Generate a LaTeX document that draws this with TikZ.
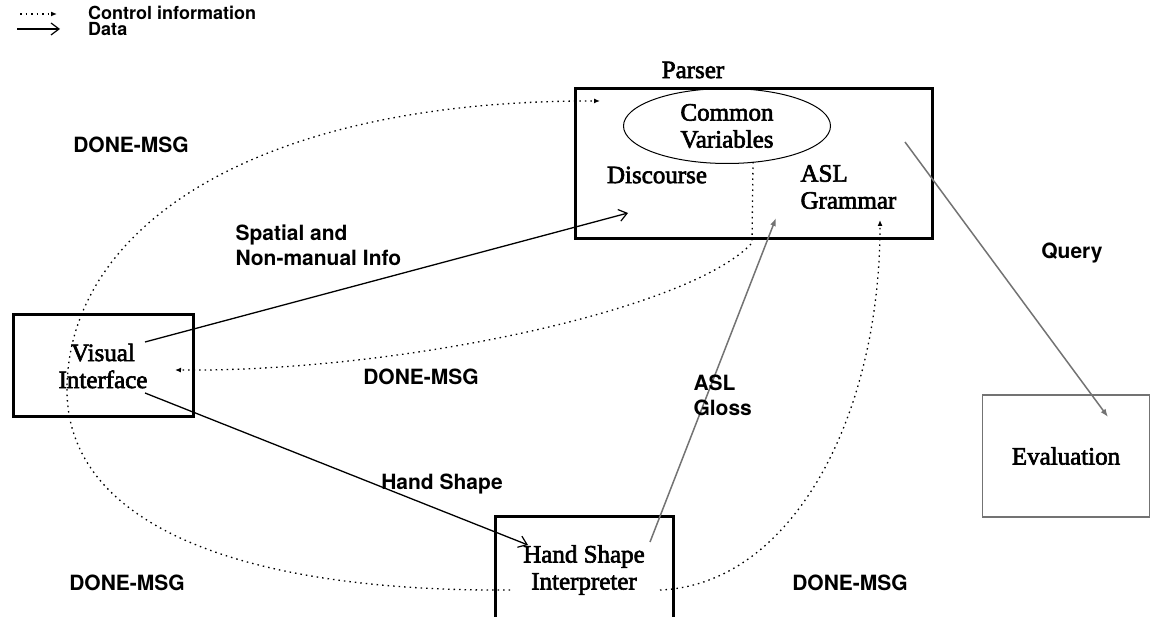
\documentclass[tikz,border=0pt]{standalone}
\usepackage{fontspec}
\setmainfont{Liberation Serif}
\setsansfont{TeX Gyre Heros}
\newfontfamily\scanserif[FakeBold=2.5]{Liberation Serif}
\usetikzlibrary{arrows.meta,shapes.geometric}
\definecolor{inkgray}{gray}{0.45}

\begin{document}
\begin{tikzpicture}[x=1pt,y=-1pt,
 module/.style={draw,line width=3pt,inner sep=0pt},
 serifname/.style={font=\scanserif\fontsize{25}{27}\selectfont,align=center},
 flowlabel/.style={font=\sffamily\bfseries\fontsize{21}{25}\selectfont,align=left},
 legendtext/.style={font=\sffamily\bfseries\fontsize{18}{18}\selectfont,inner sep=0pt},
 % Data flows end in an open barb, control flows are dotted with a small head.
 data/.style={line width=1.3pt,-{Straight Barb[length=8pt,width=12pt,line width=1.2pt]}},
 gloss/.style={inkgray,line width=1.5pt,-{Latex[length=8pt,width=6pt]}},
 control/.style={line width=1.3pt,dash pattern=on 1.5pt off 4pt,
   -{Latex[length=6pt,width=5pt]}}]
\useasboundingbox (0,0) rectangle (1152,617);

% Legend
\coordinate (ctrlA) at (20,14);
\coordinate (ctrlB) at (57,14);
\coordinate (dataA) at (17,29);
\coordinate (dataB) at (60,29);
\draw[control] (ctrlA) -- (ctrlB);
\draw[data] (dataA) -- (dataB);
\node[legendtext,anchor=west] (ctrlkey) at (88,13) {Control information};
\node[legendtext,anchor=west] (datakey) at (88,29) {Data};

% Modules
\node[module,minimum width=357pt,minimum height=150pt] (parser) at (753.5,164) {};
\node[serifname] (parsertitle) at (693,70) {Parser};
\node[draw,ellipse,line width=1pt,serifname,minimum width=207pt,
  minimum height=75pt,inner sep=0pt] (commonvars) at (727,126) {Common\\Variables};
\node[serifname] (discourse) at (657,175) {Discourse};
\node[serifname,align=left,anchor=west] (grammar) at (797,187) {ASL\\Grammar};
\node[module,serifname,minimum width=180pt,minimum height=102pt] (vi)
  at (103,366) {Visual\\Interface};
\node[module,serifname,minimum width=178pt,minimum height=106pt] (hsi)
  at (584,570) {Hand Shape\\Interpreter};
\node[draw=inkgray,line width=1.5pt,serifname,minimum width=167pt,
  minimum height=122pt] (eval) at (1066,456) {Evaluation};

% Ends of the connectors
\coordinate (vi-spatial) at (145,342);
\coordinate (parser-spatial) at (628,213);
\coordinate (vi-hand) at (145,393);
\coordinate (hsi-hand) at (528,545);
\coordinate (hsi-gloss) at (650,542);
\coordinate (parser-gloss) at (776,218);
\coordinate (parser-query) at (905,142);
\coordinate (eval-query) at (1108,417);
\coordinate (hsi-left) at (510,590);
\coordinate (parser-done) at (600,101);
\coordinate (cv-drop) at (753,162);
\coordinate (parser-floor) at (752,243);
\coordinate (vi-done) at (175,370);
\coordinate (hsi-right) at (660,590);
\coordinate (grammar-done) at (880,220);

% Data
\draw[data] (vi-spatial) -- (parser-spatial);
\draw[data] (vi-hand) -- (hsi-hand);
\draw[gloss] (hsi-gloss) -- (parser-gloss);
\draw[gloss] (parser-query) -- (eval-query);
\node[flowlabel,anchor=west] (spatiallabel) at (232,245) {Spatial and\\Non-manual Info};
\node[flowlabel] (handlabel) at (442,484) {Hand Shape};
\node[flowlabel,anchor=west] (glosslabel) at (690,395) {ASL\\Gloss};
\node[flowlabel] (querylabel) at (1072,253) {Query};

% Control
\draw[control] (hsi-left) .. controls (230,592) and (67,520) .. (67,390)
  .. controls (67,230) and (250,100) .. (parser-done);
\draw[control] (cv-drop) -- (parser-floor)
  .. controls (690,310) and (400,372) .. (vi-done);
\draw[control] (hsi-right) .. controls (790,585) and (880,420) .. (grammar-done);
\node[flowlabel] (donetop) at (131,145) {DONE-MSG};
\node[flowlabel] (donemid) at (421,377) {DONE-MSG};
\node[flowlabel] (doneleft) at (127,583) {DONE-MSG};
\node[flowlabel] (doneright) at (850,583) {DONE-MSG};
\end{tikzpicture}
\end{document}
